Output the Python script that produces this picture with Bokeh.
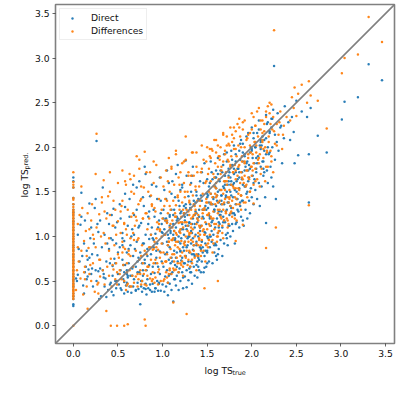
from bokeh.plotting import figure
from bokeh.embed import file_html
from bokeh.resources import INLINE
from bokeh.models import FixedTicker, Range1d, Label, Legend, LegendItem

zero_direct = [.22,.24,.30,.33,.36,.40,.44,.47,.50,.52,.55,.58,.62,.66,.70,.73,.77,.80,.84,.88,.90,.94,.97,1.0,1.03,1.07,1.10,1.14,1.17,1.20,1.24,1.27,1.30,1.36,1.43,1.55,1.62,1.66]
zero_diff = [0.0,.30,.32,.34,.36,.38,.39,.41,.43,.45,.46,.48,.50,.52,.54,.55,.57,.59,.61,.63,.65,.66,.68,.70,.72,.74,.75,.77,.79,.81,.83,.85,.86,.88,.90,.92,.94,.96,.98,1.0,1.02,1.04,1.06,1.08,1.10,1.12,1.14,1.16,1.18,1.20,1.22,1.24,1.26,1.28,1.30,1.33,1.36,1.41,1.43,1.55,1.58,1.61,1.72]

out_x = [3.31,3.46,3.19,3.04,3.01,2.25,2.84,2.74,2.64,2.64,2.52,2.48,2.27,2.16,1.47,1.62,.42,.49,.57,.61,.80,.81,.37,.26,.60,.55,.16,.09,.25,.13,1.82,1.90,2.02,2.62,2.56,2.45,2.47,2.66,2.50,2.43]
out_direct = [2.93,2.75,2.56,2.51,2.31,2.91,1.94,2.13,1.92,1.38,1.91,1.82,1.42,1.15,.65,.80,.48,.50,.49,.56,.70,.41,.32,2.07,.62,.90,.55,1.49,1.42,.60,1.14,1.18,1.60,2.34,2.40,2.34,2.17,2.44,2.52,2.08]
out_diff = [3.46,3.18,3.04,3.00,2.83,3.31,2.21,2.52,2.74,1.35,2.60,2.67,1.10,.87,.42,.50,0.0,0.0,0.0,.015,.07,0.0,.165,2.15,.45,.82,.19,1.56,1.70,.52,.95,1.13,1.37,2.50,2.70,2.56,2.44,2.58,2.35,2.30]

a_x = [.03,.04,.05,.05,.06,.07,.08,.09,.10,.11,.12,.13,.14,.15,.15,.16,.17,.18,.19,.20,.20,.21,.22,.23,.24,.25,.26,.27,.28,.29,.30,.30,.31,.32,.33,.34,.35,.36,.37,.38,.39,.40,.40,.41,.42,.43,.44,.45,.45,.46,.47,.47,.48,.48,.49,.50,.50,.12,.18,.28,.34,.41,.44]
a_direct = [.53,.50,.57,1.02,.86,.72,1.13,1.22,.78,.45,.92,1.18,.66,.52,.84,.74,.63,1.37,.98,.58,1.10,.64,.44,.92,1.32,.62,.50,.79,1.05,.30,.64,1.18,.33,.88,1.55,.58,1.02,.53,.72,1.26,.40,.86,1.14,.46,.98,.38,.67,.34,1.31,.75,.50,1.10,.92,.42,1.16,.58,.82,.36,.76,.61,.54,.70,.96]
a_diff = [.40,.62,.88,1.14,.72,1.24,.53,.84,1.32,.35,.95,.66,1.06,.78,.44,1.26,.87,.58,.68,1.18,.50,1.36,.70,.97,.38,.88,1.10,.46,.36,1.25,.74,.55,1.00,1.38,.62,1.63,.46,.92,1.20,.66,1.45,.56,.98,1.72,.75,.44,1.12,1.40,.63,.90,.52,1.30,.70,1.02,.46,1.17,.80,.60,1.08,.48,1.04,1.24,.68]

b_x = [.51,.52,.53,.53,.54,.55,.55,.56,.57,.57,.58,.58,.59,.60,.60,.61,.61,.62,.63,.63,.64,.64,.65,.65,.66,.67,.67,.68,.68,.69,.70,.70,.71,.71,.72,.72,.73,.73,.74,.74,.75,.75,.76,.76,.77,.77,.78,.78,.79,.79,.80,.80,.81,.81,.82,.82,.83,.83,.84,.84,.85,.85,.86,.86,.87,.87,.88,.88,.89,.89,.90,.90,.91,.91,.92,.92,.93,.93,.94,.94,.95,.95,.96,.96,.97,.97,.98,.98,.99,.99]
b_direct = [.46,.88,.62,1.20,.40,.74,1.04,.52,.36,.95,.68,1.33,.45,.82,.58,1.12,.38,.70,.44,1.42,.90,.56,.37,1.00,.64,.78,.44,1.24,.52,.86,.39,.66,1.55,.94,.48,.72,1.10,.41,.60,1.62,.82,.24,.50,1.15,.70,.38,.92,.56,1.34,.42,.74,1.78,.47,1.02,.62,.35,.86,.52,1.22,.42,.68,.97,.40,1.45,.58,.80,.38,1.10,.66,.47,1.30,.88,.38,.59,1.03,.42,.76,1.56,.50,.92,.39,.66,1.18,.47,.83,.58,1.40,.39,.72,1.05]
b_diff = [.76,.58,1.04,1.28,.52,.94,1.40,.68,.50,1.15,.86,1.62,.40,1.02,.60,1.30,.47,.80,.62,1.70,.78,.98,.44,1.22,.56,1.04,.66,1.48,.48,1.12,.55,.84,1.90,1.18,.44,.96,1.36,.52,.74,1.86,.62,.58,.46,1.42,.90,.50,1.20,.70,1.55,.58,.84,1.95,.62,1.26,.80,.45,1.08,.56,1.50,.66,.88,1.20,.53,1.72,.74,1.02,.50,1.36,.85,.60,1.60,.70,.48,.94,1.28,.54,.98,1.80,.70,1.16,.46,.85,1.42,.63,1.06,.76,1.66,.50,.92,1.30]

c_x = [1.00,1.00,1.01,1.01,1.02,1.02,1.03,1.03,1.04,1.04,1.05,1.05,1.05,1.06,1.06,1.07,1.07,1.08,1.08,1.08,1.09,1.09,1.10,1.10,1.10,1.11,1.11,1.12,1.12,1.13,1.13,1.13,1.14,1.14,1.15,1.15,1.15,1.16,1.16,1.17,1.17,1.18,1.18,1.18,1.19,1.19,1.20,1.20,1.20,1.21,1.21,1.22,1.22,1.22,1.23,1.23,1.24,1.24,1.24,1.25,1.25,1.25,1.26,1.26,1.27,1.27,1.27,1.28,1.28,1.29,1.29,1.29,1.30,1.30,1.30,1.31,1.31,1.32,1.32,1.32,1.33,1.33,1.34,1.34,1.34,1.35,1.35,1.36,1.36,1.36,1.37,1.37,1.38,1.38,1.38,1.39,1.39,1.40,1.40,1.40,1.41,1.41,1.42,1.42,1.43,1.43,1.44,1.44,1.45,1.45,1.46,1.46,1.47,1.47,1.48,1.48,1.49,1.49,1.50,1.50]
c_direct = [.46,.92,1.30,.66,.38,1.08,.80,.55,1.42,.44,.94,.62,1.16,.34,1.02,.74,1.60,.47,.88,1.24,.58,1.04,.40,.76,1.48,.96,.60,.27,1.14,.84,.52,1.30,.98,.68,.45,1.10,1.70,.82,.56,1.20,.72,.94,.40,1.40,1.05,.64,.83,1.26,.50,.98,.73,1.55,.60,1.14,.88,.42,1.02,.70,1.34,.55,.94,1.18,.78,1.85,1.08,.62,.43,1.24,.90,.72,1.45,.51,1.00,.82,1.15,.60,1.32,.92,.72,1.06,.47,1.68,.85,1.20,.98,.66,1.40,1.10,.78,.56,1.02,1.28,.68,.90,1.50,.54,1.16,.80,1.00,.66,1.30,.74,1.10,.88,.60,1.46,.95,.72,1.22,.82,1.60,.60,1.05,.78,1.34,.92,.66,1.14,.84,1.00]
c_diff = [.70,1.20,1.56,.82,.52,1.34,1.02,.72,1.74,.60,1.15,.80,1.40,.48,1.26,.94,1.88,.62,1.10,1.50,.76,1.30,.58,.96,1.76,1.18,.80,.26,1.40,1.06,.72,1.58,1.22,.90,.63,1.35,1.96,1.02,.76,1.46,.94,1.15,.60,1.66,1.30,.86,1.04,1.50,.70,1.22,.95,1.82,.82,1.38,1.10,.66,1.26,.92,1.60,.78,1.16,1.44,1.00,2.12,1.30,.84,.13,1.50,1.12,.94,1.72,.74,1.24,1.04,1.40,.82,1.58,1.14,.96,1.30,.70,1.94,1.08,1.46,1.22,.90,1.68,1.34,1.00,.76,1.26,1.52,.92,1.14,1.78,.78,1.40,1.04,1.24,.90,1.56,.98,1.34,1.10,.84,1.72,1.20,.96,1.48,1.06,1.86,.84,1.30,1.02,1.60,1.16,.90,1.38,1.08,1.24]

d_x = [1.51,1.51,1.52,1.52,1.53,1.53,1.54,1.54,1.55,1.55,1.56,1.56,1.57,1.57,1.58,1.58,1.59,1.59,1.60,1.60,1.60,1.61,1.61,1.62,1.62,1.63,1.63,1.64,1.64,1.65,1.65,1.66,1.66,1.67,1.67,1.68,1.68,1.69,1.69,1.70,1.70,1.71,1.71,1.72,1.72,1.73,1.73,1.74,1.74,1.75,1.75,1.76,1.76,1.77,1.77,1.78,1.78,1.79,1.79,1.80,1.80,1.81,1.81,1.82,1.82,1.83,1.83,1.84,1.85,1.85,1.86,1.86,1.87,1.87,1.88,1.88,1.89,1.90,1.90,1.91,1.92,1.92,1.93,1.94,1.95,1.95,1.96,1.97,1.98,1.98,1.99,2.00,2.00,2.01,2.02,2.03,2.04,2.04,2.05,2.06,2.07,2.08,2.09,2.10,2.10,2.11,2.12,2.13,2.14,2.15,2.16,2.17,2.18,2.19,2.20,2.21,2.22,2.23,2.24,2.26,2.28,2.30,2.32,2.34,2.36]
d_direct = [.98,1.46,.72,1.24,1.60,.88,1.12,1.36,.94,1.72,1.18,.70,1.44,1.02,1.28,.82,1.56,1.10,.90,1.34,1.66,1.20,.74,1.50,1.04,1.38,.86,1.62,1.14,.96,1.74,1.28,1.46,.78,1.10,1.56,1.22,1.36,.92,1.68,1.16,1.44,1.02,1.84,1.30,.90,1.58,1.12,1.38,1.72,1.24,1.00,1.50,1.32,1.62,1.14,1.80,1.44,1.06,1.70,1.26,1.52,.92,1.36,1.92,1.16,1.62,1.42,1.28,1.76,1.10,1.54,1.34,1.86,1.46,1.22,1.64,1.40,1.94,1.12,1.56,1.74,1.30,1.48,1.84,1.20,1.62,1.40,1.76,1.26,1.54,1.96,1.44,1.68,1.36,1.82,1.52,2.00,1.72,1.42,1.90,1.60,1.34,1.78,2.08,1.56,1.84,1.68,1.96,1.44,2.10,1.74,1.60,1.92,2.16,1.78,1.66,2.00,1.56,1.86,2.06,1.96,2.22,1.82,2.10]
d_diff = [1.24,1.70,.96,1.50,1.90,1.12,1.38,1.62,1.20,1.98,1.44,.96,1.70,1.28,1.56,1.08,1.82,1.36,1.14,1.60,1.94,1.46,1.00,1.78,1.30,1.64,1.12,1.90,1.40,1.22,2.00,1.52,1.74,1.04,1.36,1.84,1.48,1.62,1.18,1.96,1.42,1.72,1.28,2.12,1.58,1.18,1.86,1.38,1.66,2.02,1.52,1.26,1.78,1.58,1.90,1.40,2.06,1.72,1.32,1.98,1.54,1.80,1.20,1.64,2.18,1.42,1.90,1.68,1.54,2.02,1.36,1.80,1.60,2.12,1.72,1.46,1.90,1.64,2.20,1.38,1.82,2.00,1.56,1.74,2.10,1.44,1.88,1.64,2.02,1.50,1.78,2.20,1.68,1.92,1.58,2.06,1.76,2.24,1.94,1.64,2.12,1.82,1.56,2.00,2.30,1.76,2.06,1.88,2.18,1.62,2.34,1.94,1.78,2.12,2.38,1.96,1.84,2.20,1.72,2.04,2.26,2.14,2.40,1.98,2.24]

more_direct_x = [.52,.58,.63,.67,.71,.74,.78,.81,.85,.88,.91,.94,.97,.99,.55,.62,.68,.73,.79,.84,.89,.93,.98,1.02,1.05,1.08,1.11,1.14,1.17,1.19,1.22,1.24,1.27,1.29,1.32,1.34,1.37,1.39,1.42,1.44,1.47,1.49,1.52,1.54,1.57,1.59,1.62,1.64,1.67,1.69,1.72,1.74,1.77,1.79,1.82,1.84,1.87,1.89,1.92,1.94,1.97,1.99,2.02,2.05,2.08,2.11,2.14,2.17,2.20,2.23,2.26,2.29,2.33,2.37,2.41,1.03,1.07,1.10,1.13,1.16,1.20,1.23,1.26,1.30,1.33,1.36,1.40,1.43,1.46,1.50,1.53,1.56,1.60,1.63,1.66,1.70,1.73,1.76,1.80,1.83,1.86,1.90,1.93,1.96,2.00,2.03,2.06,2.10,2.13,2.16,1.05,1.09,1.14,1.18,1.22,1.27,1.31,1.35,1.39,1.44,1.48,1.53,1.58,1.63,1.68,1.73,1.78,1.84,1.89,1.95,.90,.95,1.00,1.04,1.08,1.12,1.16,1.21,1.25,1.29,1.33,1.38,1.42,1.46,1.51,1.55,1.61,1.65,1.71,1.76]
more_direct_y = [1.36,1.48,1.22,1.58,1.30,1.12,1.44,1.70,1.28,1.58,1.22,1.42,1.66,1.14,.98,.86,1.02,.76,.92,1.14,.98,.84,1.26,1.52,1.74,1.22,1.62,1.44,1.80,1.34,1.58,1.26,1.68,1.12,1.50,1.78,1.38,1.20,1.62,1.40,1.82,1.30,1.56,1.84,1.42,1.66,1.88,1.24,1.72,1.92,1.50,1.76,1.96,1.58,1.84,1.64,2.04,1.72,1.90,2.12,1.80,2.00,2.16,1.88,2.20,2.02,1.72,2.26,1.94,2.32,2.14,2.38,2.24,2.46,2.28,1.18,.98,1.30,1.06,1.22,.92,1.08,1.32,1.16,1.04,1.24,1.42,1.12,1.30,1.48,1.20,1.36,1.54,1.28,1.46,1.62,1.38,1.58,1.76,1.50,1.66,1.84,1.56,1.74,1.98,1.64,1.82,2.06,1.76,1.92,.82,.70,.96,.60,.76,.88,.66,.80,.72,.94,.84,1.00,.90,1.10,1.16,1.04,1.26,1.30,1.40,1.50,.96,1.10,1.04,1.20,1.12,1.02,1.18,1.08,1.22,1.00,1.14,1.26,1.06,1.20,1.32,1.16,1.40,1.24,1.46,1.34]

more_diff_x = [.52,.56,.60,.64,.68,.72,.76,.80,.83,.86,.89,.92,.95,.98,.54,.59,.65,.70,.75,.82,.87,.91,.96,1.01,1.04,1.07,1.09,1.12,1.15,1.17,1.20,1.23,1.25,1.28,1.30,1.33,1.35,1.38,1.41,1.43,1.46,1.48,1.51,1.53,1.56,1.58,1.61,1.63,1.66,1.68,1.71,1.73,1.76,1.78,1.81,1.83,1.86,1.88,1.91,1.93,1.96,1.98,2.01,2.04,2.07,2.10,2.13,2.16,2.19,2.22,2.25,2.28,2.31,2.35,2.39,1.02,1.06,1.09,1.12,1.15,1.19,1.22,1.25,1.29,1.32,1.35,1.39,1.42,1.45,1.49,1.52,1.55,1.59,1.62,1.65,1.69,1.72,1.75,1.79,1.82,1.85,1.89,1.92,1.95,1.99,2.02,2.05,2.09,2.12,2.15,1.04,1.08,1.13,1.17,1.21,1.26,1.30,1.34,1.38,1.43,1.47,1.52,1.57,1.62,1.67,1.72,1.77,1.83,1.88,1.94,.90,.94,.99,1.03,1.07,1.11,1.15,1.20,1.24,1.28,1.32,1.37,1.41,1.45,1.50,1.54,1.60,1.64,1.70,1.75]
more_diff_y = [.62,.88,.70,.44,.96,.58,.78,.46,.66,.88,.52,.74,.60,.82,1.34,1.08,1.50,1.22,1.40,1.26,1.46,1.32,1.14,.50,.72,.58,.86,.64,.94,.70,.78,.56,.90,.68,1.02,.74,.84,.62,.96,.78,1.08,.72,.88,1.02,.82,1.14,.94,1.06,1.20,.98,1.26,1.10,1.34,1.22,1.44,1.18,1.52,1.30,1.60,1.38,1.66,1.50,1.74,1.62,1.86,1.70,1.98,1.78,2.06,1.90,2.18,2.02,2.28,2.14,2.34,1.02,.90,1.14,.98,1.22,1.06,1.16,.94,1.28,1.10,1.36,1.20,1.02,1.30,1.42,1.14,1.36,1.48,1.26,1.52,1.38,1.62,1.44,1.72,1.54,1.78,1.66,1.84,1.74,1.94,1.82,2.02,1.92,2.08,2.00,.72,.64,.80,.88,.68,.76,.84,.94,.80,.90,1.02,.96,.92,1.04,1.12,1.20,1.28,1.36,1.46,1.58,.86,1.08,1.00,1.18,.94,1.10,1.04,1.16,1.24,1.06,1.20,1.30,1.12,1.26,1.38,1.22,1.44,1.30,1.52,1.42]

band_direct_x = [.21,.27,.33,.38,.43,.47,.56,.61,.66,.72,.77,.83,.87,.92,.96,1.01,1.06,1.09,1.12,1.15,1.18,1.21,1.24,1.26,1.28,1.31,1.33,1.36,1.38,1.41,1.43,1.45,1.48,1.50,1.53,1.55,1.58,1.61,1.63,1.66,1.69,1.71,1.74,1.77,1.80,1.83,1.86,1.90,1.93,1.97,2.01,2.05,2.09,2.13,2.18,2.22,1.07,1.11,1.16,1.20,1.25,1.30,1.35,1.40,1.45,1.50,1.54,1.59,1.64,1.69,1.75,1.81,1.87,.35,.44,.53,.60,.70,.76,.86,.92,.78,.66,.57,1.06,1.14,1.23,1.32,1.41,1.50,1.60,1.72]
band_direct_y = [.80,1.14,.62,.92,1.24,.70,.68,.54,1.08,.60,.50,.78,1.02,.70,.48,1.20,.90,1.06,1.24,.76,1.00,1.28,.84,1.12,.98,1.36,.80,1.14,.94,1.22,.86,1.30,1.04,1.44,1.22,1.06,1.30,1.46,1.16,1.36,1.54,1.28,1.68,1.46,1.60,1.42,1.72,1.58,1.78,1.66,1.88,1.76,2.02,1.84,2.00,2.22,.56,.72,.66,.84,.70,.64,.90,.76,.88,.82,1.00,.92,1.06,1.18,1.12,1.24,1.38,.44,.56,.42,.48,.40,.44,.46,.42,.62,.56,.60,.48,.52,.54,.60,.62,.70,.78,.98]

band_diff_x = [.22,.29,.35,.40,.45,.49,.57,.62,.67,.73,.78,.84,.88,.93,.97,1.03,1.05,1.08,1.11,1.14,1.17,1.20,1.23,1.25,1.27,1.30,1.32,1.35,1.37,1.40,1.42,1.44,1.47,1.49,1.52,1.54,1.57,1.60,1.62,1.65,1.68,1.70,1.73,1.76,1.79,1.82,1.85,1.89,1.92,1.96,2.00,2.04,2.08,2.12,2.17,2.21,1.06,1.10,1.15,1.19,1.24,1.29,1.34,1.39,1.44,1.49,1.53,1.58,1.63,1.68,1.74,1.80,1.86,.32,.41,.50,.59,.68,.74,.82,.90,.76,.64,.55,1.05,1.13,1.22,1.31,1.40,1.51,1.62,1.74]
band_diff_y = [1.02,.74,1.28,.84,1.12,.60,1.14,.84,1.26,.98,1.20,.66,1.34,.88,1.08,1.42,1.18,1.34,.96,1.26,1.44,1.08,1.30,1.50,1.16,1.38,1.04,1.24,1.56,1.18,1.40,1.12,1.32,1.62,1.26,1.48,1.20,1.54,1.38,1.70,1.30,1.62,1.44,1.80,1.56,1.74,1.48,1.84,1.68,1.92,1.78,2.06,1.88,2.16,1.96,2.26,1.62,1.78,1.92,1.58,1.84,1.68,1.94,1.72,2.02,1.84,1.98,2.08,1.90,2.14,2.04,2.22,2.32,1.44,1.50,1.60,1.58,1.68,1.76,1.72,1.84,1.56,1.64,1.74,.54,.62,.72,.66,.78,.92,1.00,1.14]

upper_x = [1.52,1.56,1.60,1.64,1.68,1.72,1.76,1.80,1.84,1.88,1.92,1.96,2.00,2.04,2.08,2.12,2.16,2.20,2.24,1.54,1.62,1.70,1.78,1.86,1.94,2.02,2.10,2.18,1.58,1.66,1.74,1.82,1.90,1.98,2.06,2.14,2.22,1.20,1.26,1.32,1.38,1.44,1.50]
upper_direct = [1.38,1.64,1.74,1.52,1.80,1.94,1.66,2.02,1.76,2.08,1.92,2.16,2.22,2.00,2.30,2.12,2.36,2.18,2.42,1.48,1.70,1.58,1.86,1.96,1.82,2.10,1.98,2.28,1.30,1.40,1.62,1.72,2.04,1.94,2.16,2.08,2.32,1.52,1.36,1.60,1.46,1.72,1.64]
upper_diff = [1.76,1.96,2.08,1.86,2.16,2.02,2.22,2.10,2.26,2.00,2.30,2.14,2.38,2.24,2.44,2.30,2.40,2.50,2.34,1.88,2.02,1.92,2.14,2.22,2.08,2.34,2.20,2.46,1.66,1.78,1.84,1.98,2.28,2.16,2.40,2.26,2.48,1.72,1.86,1.68,1.94,1.76,2.00]

tick_values = [0.0, 0.5, 1.0, 1.5, 2.0, 2.5, 3.0, 3.5]
diagonal = [-0.2, 3.6]

bx = [0.0]*len(zero_direct) + out_x + a_x + b_x + c_x + d_x
by = zero_direct + out_direct + a_direct + b_direct + c_direct + d_direct
ox = [0.0]*len(zero_diff) + out_x + a_x + b_x + c_x + d_x
oy = zero_diff + out_diff + a_diff + b_diff + c_diff + d_diff
n = min(len(bx), len(by)); bx, by = bx[:n], by[:n]
n = min(len(ox), len(oy)); ox, oy = ox[:n], oy[:n]
for xs, ys in ((more_direct_x, more_direct_y), (band_direct_x, band_direct_y), (upper_x, upper_direct)):
    n = min(len(xs), len(ys)); bx = bx + xs[:n]; by = by + ys[:n]
for xs, ys in ((more_diff_x, more_diff_y), (band_diff_x, band_diff_y), (upper_x, upper_diff)):
    n = min(len(xs), len(ys)); ox = ox + xs[:n]; oy = oy + ys[:n]

abs_pos = {"position": "absolute", "left": "0px", "top": "0px"}
p = figure(width=399, height=399, frame_width=339, frame_height=339,
           min_border_left=55, min_border_right=5, min_border_top=4, min_border_bottom=56,
           x_range=Range1d(-0.2, 3.6), y_range=Range1d(-0.2, 3.6),
           output_backend="svg", toolbar_location=None, styles=abs_pos)
p.grid.visible = False
p.outline_line_color = "#808080"
p.outline_line_width = 1.6
p.background_fill_color = "white"
for ax in (p.xaxis[0], p.yaxis[0]):
    ax.ticker = FixedTicker(ticks=tick_values)
    ax.major_label_overrides = {t: f"{t:.1f}" for t in tick_values}
    ax.axis_line_color = None
    ax.major_tick_line_color = "#222222"
    ax.major_tick_line_width = 0.7
    ax.major_tick_out = 3
    ax.major_tick_in = 0
    ax.minor_tick_line_color = None
    ax.major_label_text_font = "DejaVu Sans"
    ax.major_label_text_font_size = "9.2px"
    ax.major_label_text_color = "#111111"
    ax.major_label_standoff = 3

r1 = p.scatter(bx, by, size=2.5, color="#1f77b4", line_color=None, alpha=0.95)
r2 = p.scatter(ox, oy, size=2.5, color="#ff7f0e", line_color=None, alpha=0.95)
p.line(diagonal, diagonal, line_color="#808080", line_width=1.6)

leg = Legend(items=[LegendItem(label="Direct", renderers=[r1]), LegendItem(label="Differences", renderers=[r2])],
             location="top_left", label_text_font="DejaVu Sans", label_text_font_size="9.2px",
             label_text_color="#111111", border_line_color="#dddddd", border_line_width=1,
             background_fill_alpha=0.8, margin=4, padding=3, spacing=2, label_standoff=10,
             glyph_width=18, glyph_height=6, label_height=10)
p.add_layout(leg)

overlay = figure(width=399, height=399, min_border=0, x_range=Range1d(0, 399), y_range=Range1d(399, 0),
                 x_axis_location=None, y_axis_location=None, output_backend="svg", toolbar_location=None,
                 styles=abs_pos, background_fill_alpha=0, border_fill_alpha=0)
overlay.grid.visible = False
overlay.outline_line_color = None

def txt(x, y, s, size, angle=0.0):
    overlay.add_layout(Label(x=x, y=y, text=s, text_font="DejaVu Sans", text_font_size=size,
                             text_color="#111111", angle=angle, text_align="left", text_baseline="alphabetic"))

txt(204, 370, "log TS", "9.2px")
txt(232, 372, "true", "6.5px")
txt(24, 197, "log TS", "9.2px", 1.5708)
txt(26, 169, "pred.", "6.5px", 1.5708)

open("out.html", "w").write(file_html([p, overlay], INLINE))
